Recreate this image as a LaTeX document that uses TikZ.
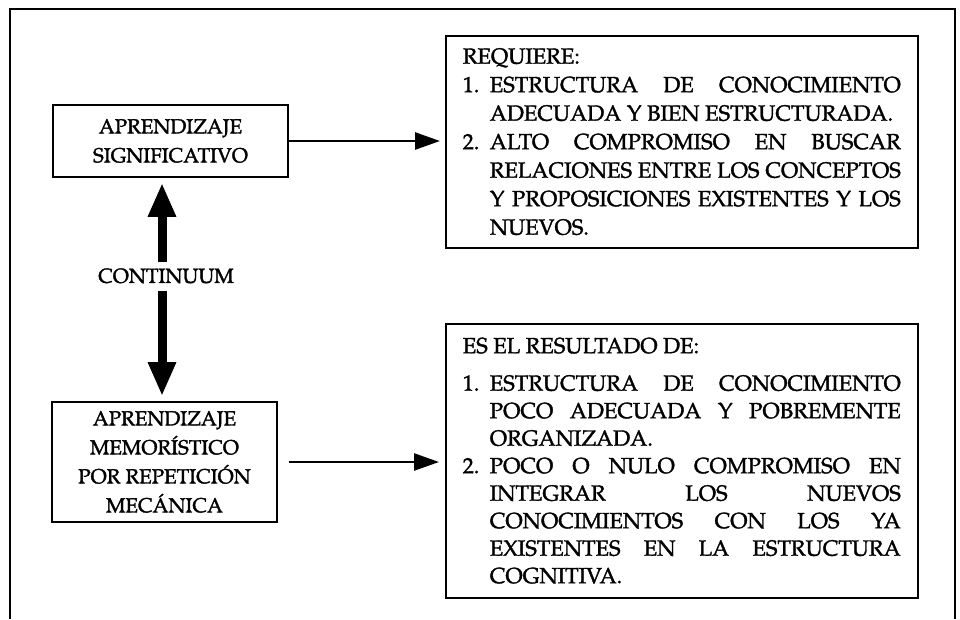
\documentclass[tikz,border=0pt]{standalone}
\usepackage[T1]{fontenc}
\usepackage{mathpazo}
\usetikzlibrary{arrows.meta}

% letra algo mas gruesa, como en el impreso
\newcommand{\grueso}{\special{pdf:literal direct 2 Tr 0.35 w}}

\tikzset{
  caja/.style={draw, line width=1.6pt, align=center, inner sep=0pt,
    font=\fontsize{20.5}{29}\selectfont\grueso},
  lista/.style={draw, line width=1.6pt, anchor=north west, text width=438pt,
    inner xsep=17pt, inner ysep=0pt, align=justify},
  flecha/.style={-{Triangle[length=25pt,width=17pt]}, line width=2.6pt},
  gruesa/.style={-{Triangle[length=34pt,width=26pt]}, line width=9pt},
}
\newcommand{\punto}[2]{{\hangindent=27pt\hangafter=1\noindent\makebox[27pt][l]{#1}#2\par}}

\begin{document}
\begin{tikzpicture}[x=1pt,y=-1pt]
    \useasboundingbox (0,0) rectangle (960,619);

    % marco abierto por abajo
    \draw [line width=1.6pt] (10,619) -- (10,9) -- (955,9) -- (955,619);

    % cajas de la izquierda
    \node [caja, minimum width=235pt, minimum height=72pt] (sig) at (170.5,141)
        {APRENDIZAJE\\SIGNIFICATIVO};
    \node [caja, minimum width=225pt, minimum height=120pt] (mem) at (164.5,462)
        {APRENDIZAJE\\MEMOR\'ISTICO\\POR REPETICI\'ON\\MEC\'ANICA};
    \node [font=\fontsize{20.5}{29}\selectfont\grueso, inner sep=2pt] (cont) at (166,276) {CONTINUUM};

    % cajas de la derecha
    \node [lista, minimum height=212pt, font=\fontsize{22}{28.5}\selectfont\grueso] (req) at (445,35) {\tolerance=10000
        REQUIERE:\par
        \punto{1.}{ESTRUCTURA DE CONOCIMIENTO\linebreak ADECUADA Y BIEN ESTRUCTURADA.}
        \punto{2.}{ALTO COMPROMISO EN BUSCAR\linebreak RELACIONES ENTRE LOS CONCEPTOS\linebreak
            Y PROPOSICIONES EXISTENTES Y LOS\linebreak NUEVOS.}};
    \node [lista, minimum height=274pt, font=\fontsize{22}{27.5}\selectfont\grueso] (res) at (445,323) {\tolerance=10000
        ES EL RESULTADO DE:\par\vskip10pt
        \punto{1.}{ESTRUCTURA DE CONOCIMIENTO\linebreak POCO ADECUADA Y POBREMENTE\linebreak ORGANIZADA.}
        \punto{2.}{POCO O NULO COMPROMISO EN\linebreak INTEGRAR LOS NUEVOS\linebreak
            CONOCIMIENTOS CON LOS YA\linebreak EXISTENTES EN LA ESTRUCTURA\linebreak COGNITIVA.}};

    % flechas
    \draw [flecha, shorten >=5pt] (sig.east) -- (req.west |- sig.east);
    \draw [flecha, shorten <=11pt, shorten >=6pt] (mem.east) -- (res.west |- mem.east);
    \draw [gruesa, shorten <=4pt, shorten >=5pt] ([xshift=-4pt]cont.north) -- ([xshift=-4pt]cont.north |- sig.south);
    \draw [gruesa, shorten <=5pt, shorten >=5pt] ([xshift=-4pt]cont.south) -- ([xshift=-4pt]cont.south |- mem.north);
\end{tikzpicture}
\end{document}
